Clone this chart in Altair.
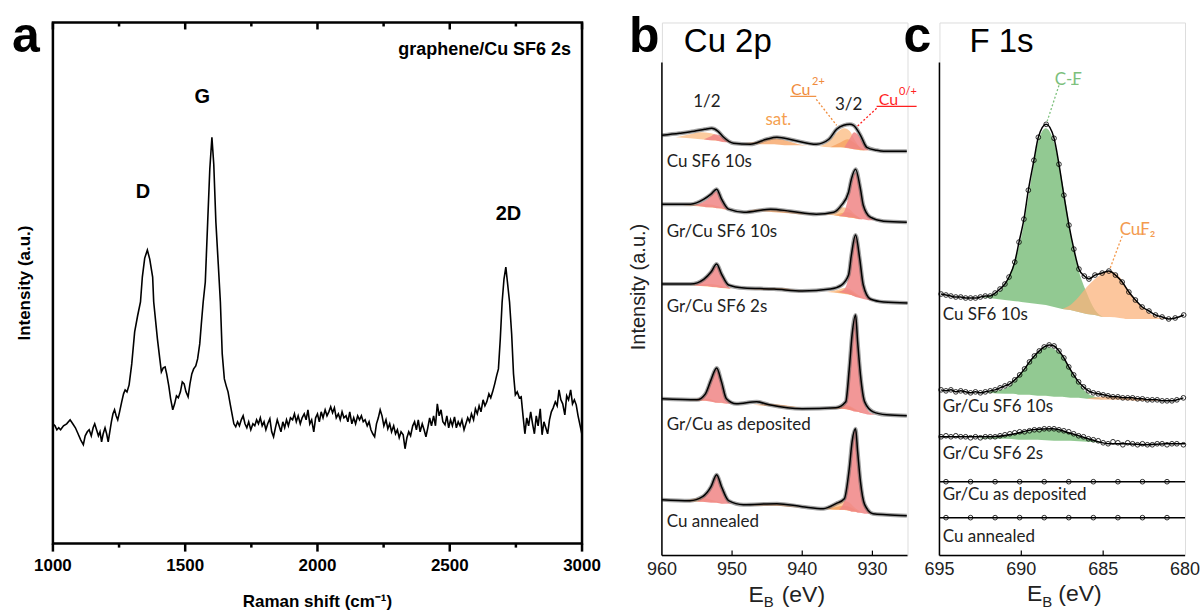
import altair as alt
import pandas as pd

FONT = "Liberation Sans"
LFONT = "Lato"

# ---------------- Panel a : Raman spectrum (intensity in a.u.) ----------------
raman = [(1000,120),(1008,118),(1015,114),(1022,116),(1029,114),(1040,118),(1052,120),(1065,124),(1075,120),(1085,116),
 (1095,110),(1105,104),(1115,99),(1122,108),(1130,112),(1137,114),(1145,108),(1152,116),(1158,120),(1165,114),(1172,108),
 (1178,112),(1184,102),(1190,110),(1197,116),(1203,110),(1209,102),(1215,112),(1221,122),(1227,130),(1233,134),(1239,128),
 (1245,124),(1252,132),(1260,142),(1267,150),(1273,154),(1280,152),(1288,159),(1298,180),(1309,212),(1320,228),(1331,242),
 (1338,267),(1347,286),(1357,294),(1366,285),(1377,267),(1381,242),(1395,205),(1404,185),(1410,172),(1417,176),(1424,177),
 (1430,170),(1438,158),(1445,145),(1453,134),(1460,140),(1467,148),(1474,146),(1482,152),(1489,162),(1496,160),(1503,152),
 (1511,147),(1518,160),(1525,170),(1532,175),(1540,178),(1547,185),(1555,200),(1561,220),(1568,242),(1576,262),(1585,322),
 (1593,375),(1601,407),(1608,380),(1616,322),(1625,280),(1633,242),(1640,190),(1648,165),(1655,158),(1662,152),(1670,140),
 (1677,130),(1684,120),(1691,117),(1698,122),(1705,118),(1712,124),(1719,128),(1726,120),(1733,116),(1740,122),(1748,114),
 (1756,120),(1763,118),(1770,124),(1777,120),(1784,126),(1791,118),(1798,122),(1805,114),(1812,120),(1820,125),(1827,112),
 (1834,107),(1841,116),(1848,124),(1855,118),(1862,112),(1869,122),(1876,116),(1883,124),(1890,118),(1898,126),(1906,124),
 (1913,130),(1920,122),(1927,128),(1935,120),(1942,126),(1950,130),(1957,124),(1964,134),(1971,120),(1978,124),(1986,112),
 (1993,126),(2000,130),(2007,122),(2014,132),(2021,126),(2029,134),(2036,128),(2043,132),(2050,137),(2057,131),(2064,136),
 (2071,126),(2079,130),(2086,124),(2093,132),(2100,126),(2108,128),(2115,122),(2122,132),(2130,120),(2137,126),(2144,120),
 (2152,128),(2159,124),(2166,128),(2173,122),(2180,124),(2188,118),(2195,122),(2202,114),(2209,110),(2216,107),(2223,120),
 (2230,126),(2237,134),(2244,128),(2251,118),(2259,124),(2266,115),(2273,120),(2280,112),(2288,118),(2295,110),(2302,114),
 (2309,106),(2316,112),(2324,109),(2331,95),(2338,106),(2345,112),(2352,108),(2360,118),(2367,122),(2374,114),(2381,124),
 (2388,112),(2396,120),(2403,114),(2410,107),(2417,116),(2424,126),(2431,118),(2439,128),(2446,118),(2453,140),(2460,128),
 (2467,134),(2474,122),(2482,119),(2489,128),(2496,116),(2503,124),(2510,118),(2518,127),(2525,116),(2532,122),(2539,118),
 (2546,124),(2554,114),(2561,120),(2568,126),(2575,122),(2582,130),(2590,124),(2597,135),(2604,130),(2611,138),(2618,132),
 (2626,144),(2633,138),(2640,142),(2648,150),(2655,146),(2662,152),(2670,160),(2677,168),(2684,175),(2691,205),(2698,242),
 (2705,265),(2712,277),(2718,262),(2726,242),(2734,210),(2741,170),(2748,149),(2755,152),(2763,146),(2770,147),(2777,128),
 (2784,110),(2791,126),(2798,118),(2806,132),(2813,120),(2820,110),(2827,128),(2834,118),(2842,135),(2849,109),(2856,122),
 (2863,116),(2870,110),(2877,124),(2884,132),(2891,136),(2899,142),(2906,138),(2913,154),(2920,144),(2927,140),(2935,129),
 (2942,148),(2949,144),(2957,154),(2964,140),(2971,144),(2978,139),(2985,128),(2993,118),(3000,109)]
raman_ticks = [1000, 1500, 2000, 2500, 3000]
raman_minor = [1250, 1750, 2250, 2750]
raman_peaks = [("D", 1340, 352), ("G", 1565, 447), ("2D", 2722, 330)]

# ---------------- Panel b : Cu 2p (E_B in eV, intensity in a.u.) ----------------
b_names = ["Cu SF6 10s", "Gr/Cu SF6 10s", "Gr/Cu SF6 2s", "Gr/Cu as deposited", "Cu annealed"]
b_label_y = [394, 324, 249, 131, 34]
b1_fit = [(960,421),(957.5,423),(955.4,425),(953.9,427),(952.9,428),(952,425),(951.2,419),(949.8,413),(947.4,412),(945.1,417),
          (943.6,419),(941.2,416),(938,412),(936.2,417),(935.1,427),(934.1,431),(933.2,432),(932.7,431),(931.7,421),(930.8,409),
          (929.4,406),(928.4,405),(925.1,405)]
b2_fit = [(960,352),(955.9,352),(954,357),(953,362),(952.2,367),(951.5,357),(950.5,347),(948.3,344),(944.5,347),(941.7,345),
          (938,342),(935.5,344),(934.4,351),(933.4,364),(933,377),(932.4,387),(931.7,367),(931.3,351),(930.3,339),(928.4,335),(925.1,334)]
b3_fit = [(960,272),(955.9,272),(954,277),(953,284),(952.2,292),(951.5,282),(950.5,271),(948.3,268),(944,267),(940,265),
          (936,267),(934.4,271),(933.4,281),(933,301),(932.4,321),(931.8,297),(931.3,271),(930.3,257),(928.4,254),(925,253)]
b4_fit = [(960,157),(955,156),(953.8,162),(953,176),(952.2,188),(951.5,174),(950.8,157),(949.4,152),(946.5,154),(944.7,151),
          (940,147),(935.2,148),(933.8,154),(933.3,187),(932.9,221),(932.4,241),(932.1,214),(931.7,181),(931.1,154),(929.9,144),
          (928,141),(925.1,140)]
b5_fit = [(960,56),(956,55),(954.2,59),(953,69),(952.2,81),(951.5,69),(950.5,55),(948.4,51),(943.6,52),(940,49),(937,47),
          (935.2,52),(934,57),(933.3,87),(932.9,114),(932.4,127),(932.1,104),(931.7,74),(931.1,51),(929.9,42),(928,41),(925.1,40)]

# fitted components: (E_B, background, top)
b1_cu2_a = [(958,419,419),(956,418,422),(954.5,417,424),(953,416,423),(951.5,415,418),(950,414,414)]
b1_cu0_a = [(954,417,417),(953,416,420),(952.5,416,422),(951.8,415,421),(951,414,417),(950,414,414)]
b1_sat_a = [(948.5,413,413),(946,412,415),(944,412,418),(942.5,411,416),(940.5,411,412),(939,410,410)]
b1_cu2_b = [(937.5,410,410),(936,409,416),(935,409,424),(934,409,428),(933.2,408,425),(932.5,407,416),(931.5,406,407),(931,406,406)]
b1_sat_b = [(936,409,409),(934.5,409,414),(933.5,408,417),(932.5,407,413),(931.5,406,408),(930.5,406,406)]
b1_cu0_b = [(934,409,409),(933.2,408,418),(932.6,407,424),(932,407,421),(931.3,406,413),(930.5,406,406)]

b2_cu2_a = [(957,351,351),(955,350,352),(953.5,349,352),(952,348,350),(950.5,346,346)]
b2_cu0_a = [(955.5,351,351),(954.5,350,353),(953.5,349,357),(952.8,349,362),(952.2,348,365),(951.6,348,357),(951,347,350),(950.2,346,346)]
b2_sat_a = [(948,345,345),(946,345,347),(944,344,347),(942,343,345),(940,342,343),(938.5,342,342)]
b2_cu2_b = [(937,342,342),(935.5,341,344),(934.5,340,349),(933.5,339,348),(932.5,338,342),(931.5,337,337)]
b2_sat_b = [(935.5,341,341),(934.5,340,343),(933.5,339,344),(932.5,338,341),(931.5,337,337)]
b2_cu0_b = [(934.8,340,340),(934,340,345),(933.4,339,360),(933,339,373),(932.4,338,384),(931.8,337,368),(931.3,337,350),(930.6,336,341),(929.8,336,336)]

b3_cu2_a = [(956,271,271),(954.5,270,272),(953,269,272),(951.5,268,270),(950,267,267)]
b3_cu0_a = [(955.5,271,271),(954.5,270,274),(953.5,270,280),(952.8,269,287),(952.2,269,290),(951.6,268,283),(951,268,274),(950.2,267,267)]
b3_sat_a = [(948,267,267),(945,266,268),(943,266,268),(941,265,266),(939,265,265)]
b3_cu2_b = [(936.5,264,264),(935,263,266),(934,262,268),(933,261,266),(932,259,261),(931,258,258)]
b3_sat_b = [(935.5,264,264),(934.5,263,265),(933.5,262,266),(932.5,260,262),(931.5,258,258)]
b3_cu0_b = [(934.8,264,264),(934,263,267),(933.4,262,279),(933,261,298),(932.4,259,319),(931.8,258,296),(931.3,257,270),(930.6,256,259),(929.8,255,255)]

b4_cu2_a = [(956.5,156,156),(955,155,157),(953.5,155,157),(952,153,154),(950.5,152,152)]
b4_cu0_a = [(955.5,156,156),(954.5,155,158),(953.8,155,162),(953,154,175),(952.2,153,187),(951.5,153,173),(950.8,152,157),(950,152,152)]
b4_sat_a = [(947,151,151),(945,150,152),(942,149,150),(940,148,148)]
b4_cu2_b = [(936.5,147,147),(935,147,149),(934,147,151),(933,146,149),(932,144,145),(931,142,142)]
b4_sat_b = [(936,147,147),(934.5,147,149),(933.5,146,149),(932.5,145,146),(931.5,143,143)]
b4_cu0_b = [(935,147,147),(934,147,151),(933.3,146,186),(932.9,145,219),(932.4,144,240),(932.1,144,213),(931.7,143,180),(931.1,142,153),(930.3,141,143),(929.5,141,141)]

b5_cu2_a = [(957,55,55),(955.5,54,57),(954.5,54,58),(953.5,54,57),(952,53,54),(951,52,52)]
b5_cu0_a = [(955,54,54),(954.2,54,58),(953,53,68),(952.2,53,80),(951.5,52,68),(950.8,52,56),(950,52,52)]
b5_sat_a = [(948,51,51),(946,50,52),(944,50,52),(942,49,50),(940,48,48)]
b5_cu2_b = [(937,47,47),(935.5,46,51),(934.5,46,55),(933.5,45,54),(932.5,44,48),(931.5,43,43)]
b5_sat_b = [(936.5,47,47),(935,46,49),(934,46,50),(933,45,48),(932,44,44)]
b5_cu0_b = [(934.8,46,46),(934,46,55),(933.3,45,85),(932.9,44,112),(932.4,44,126),(932.1,43,103),(931.7,43,73),(931.1,42,50),(930.3,42,43),(929.5,41,41)]

b_ticks = [960, 950, 940, 930]

# ---------------- Panel c : F 1s ----------------
c_names = ["Cu SF6 10s", "Gr/Cu SF6 10s", "Gr/Cu SF6 2s", "Gr/Cu as deposited", "Cu annealed"]
c_label_y = [240, 148, 101, 60, 18]
c1_data = [(694.9,261),(694.6,260),(694.3,259),(694.0,258),(693.7,258),(693.4,257),(693.1,257),(692.8,257),(692.5,258),
           (692.2,259),(691.9,259),(691.6,262),(691.3,266),(691.0,271),(690.75,278),(690.4,293),(690.14,313),(689.84,336),
           (689.57,365),(689.23,395),(688.96,418),(688.48,431),(688.0,417),(687.7,391),(687.4,360),(687.09,330),(686.79,306),
           (686.48,286),(686.15,279),(685.87,276),(685.5,280),(685.06,282),(684.65,284),(684.25,280),(683.84,273),(683.43,263),
           (683.03,255),(682.62,248),(682.2,244),(681.8,240),(681.4,238),(681.0,236),(680.6,237),(680.08,240)]
c2_data = [(694.9,165),(694.6,164),(694.3,165),(694.0,163),(693.7,164),(693.4,163),(693.1,162),(692.8,163),(692.5,162),
           (692.2,163),(691.9,164),(691.6,165),(691.3,167),(691.0,169),(690.7,171),(690.4,175),(690.1,180),(689.8,186),
           (689.5,193),(689.2,199),(688.9,204),(688.6,208),(688.3,210),(688.0,209),(687.7,204),(687.4,197),(687.1,188),
           (686.8,180),(686.5,173),(686.2,168),(685.9,164),(685.6,162),(685.3,161),(685.0,160),(684.7,159),(684.4,158),
           (684.1,158),(683.8,157),(683.5,157),(683.2,157),(682.9,156),(682.6,156),(682.3,155),(682.0,155),(681.7,155),
           (681.4,154),(681.1,154),(680.8,154),(680.5,155),(680.1,157)]
c3_data = [(694.9,118),(694.6,119),(694.3,118),(694.0,119),(693.7,118),(693.4,118),(693.1,117),(692.8,118),(692.5,117),
           (692.2,118),(691.9,118),(691.6,118),(691.3,119),(691.0,120),(690.7,121),(690.4,122),(690.1,123),(689.8,123),
           (689.5,124),(689.2,125),(688.9,125),(688.6,126),(688.3,126),(688.0,126),(687.7,125),(687.4,124),(687.1,123),
           (686.8,121),(686.5,119),(686.2,118),(685.9,116),(685.6,115),(685.3,114),(685.0,112),(684.7,111),(684.4,113),
           (684.1,112),(683.8,110),(683.5,112),(683.2,111),(682.9,110),(682.6,111),(682.3,110),(682.0,110),(681.7,111),
           (681.4,111),(681.1,110),(680.8,111),(680.5,111),(680.1,110)]
c3_fit = [(695,118),(693.4,118),(691.8,118),(690.4,121),(689.3,125),(688.1,126),(686.9,121),(685.7,115),(684.6,111),
          (683.6,111),(682.4,110),(681.2,111),(680,111)]
c4_level = 73
c5_level = 37
c_flat_pts = [694.6, 693.1, 691.6, 690.1, 688.6, 687.1, 685.6, 684.1, 682.6, 681.1]

c1_cf = [(692.5,258,258),(691.5,256,262),(691,255,270),(690.5,254,290),(690,253,318),(689.5,252,365),(689,251,412),
         (688.5,250,427),(688,248,413),(687.5,246,374),(687,245,324),(686.5,243,285),(686,241,262),(685.5,240,245),(685,238,238)]
c1_cuf2 = [(687.5,246,246),(687,245,250),(686.5,243,258),(686,241,268),(685.5,240,276),(685,238,282),(684.6,238,284),
           (684,237,278),(683.5,236,266),(683,236,255),(682.5,236,246),(682,236,240),(681.5,236,237),(681,236,236)]
c2_cf = [(692,162,163),(691,161,166),(690.5,161,172),(690,160,182),(689.5,160,194),(689,159,203),(688.5,159,208),
         (688,158,206),(687.5,158,199),(687,157,186),(686.5,157,172),(686,156,162),(685.5,156,158),(685,155,155)]
c2_cuf2 = [(686,156,156),(685,155,158),(684,155,158),(683,154,157),(682,154,155),(681,154,154)]
c3_cf = [(692.5,116,117),(691,116,119),(690,115,122),(689,115,124.5),(688,114,125.5),(687,114,121),(686,113,116),(685,112,112)]
c_ticks = [695, 690, 685, 680]

# ---------------- colours ----------------
PINK = "#f08585"
LORANGE = "#fcc594"
ORANGE = "#f59f5c"
GREEN = "#86c386"
CORANGE = "#fbb37c"

one = pd.DataFrame({"d": [0]})


def pix_text(txt, x, y, size, weight="normal", color="black", font=FONT, align="left",
             baseline="alphabetic", angle=0, opacity=1):
    return alt.Chart(one).mark_text(text=txt, fontSize=size, fontWeight=weight, color=color, font=font,
                                    align=align, baseline=baseline, angle=angle, opacity=opacity).encode(
        x=alt.value(x), y=alt.value(y))


def xy(pairs, **extra):
    d = pd.DataFrame(pairs, columns=["x", "y"])
    for k, v in extra.items():
        d[k] = v
    return d


def comp(rows, grp, kind):
    d = pd.DataFrame(rows, columns=["x", "lo", "hi"])
    d["grp"] = grp
    d["kind"] = kind
    return d


def tick_labels(vals, xenc, y, size, weight="normal", color="black"):
    d = pd.DataFrame({"x": vals})
    return alt.Chart(d).mark_text(font=FONT, fontSize=size, fontWeight=weight, color=color,
                                  baseline="top").encode(x=xenc, y=alt.value(y), text=alt.Text("x:Q", format="d"))


def area_layer(df, kind, color, opacity, xenc, yscale):
    return alt.Chart(df[df.kind == kind]).mark_area(interpolate="monotone", color=color, opacity=opacity).encode(
        x=xenc, y=alt.Y("lo:Q", scale=yscale, axis=None), y2="hi:Q", detail="grp:N")


def dtext(txt, x, y, size, color, xenc, yenc, align="left"):
    d = pd.DataFrame({"t": [txt], "x": [x], "y": [y]})
    return alt.Chart(d).mark_text(font=LFONT, fontSize=size, color=color, align=align).encode(
        x=xenc, y=yenc, text="t:N")


def dseg(x1, y1, x2, y2, color, xenc, yscale, dash=None, width=1.3):
    d = pd.DataFrame({"x": [x1], "y": [y1], "x2": [x2], "y2": [y2]})
    kw = {"strokeDash": dash} if dash else {}
    return alt.Chart(d).mark_rule(color=color, strokeWidth=width, **kw).encode(
        x=xenc, y=alt.Y("y:Q", scale=yscale, axis=None), x2="x2:Q", y2="y2:Q")


def spines(W, H, top):
    return [alt.Chart(one).mark_rule(color="black", strokeWidth=1.5).encode(
                x=alt.value(0), y=alt.value(top), y2=alt.value(H)),
            alt.Chart(one).mark_rule(color="black", strokeWidth=1.5).encode(
                x=alt.value(0), x2=alt.value(W), y=alt.value(H))]


# ================= Panel a =================
WA, HA = 530, 522
xa_s = alt.Scale(domain=[1000, 3000], nice=False, zero=False)
ya_s = alt.Scale(domain=[0, 522], nice=False, zero=False)
XAn = alt.X("x:Q", scale=xa_s, axis=None)
YA = alt.Y("y:Q", scale=ya_s, axis=None)

a_line = alt.Chart(xy(raman)).mark_line(color="black", strokeWidth=1.6).encode(x=XAn, y=YA)
tmaj = pd.DataFrame({"x": raman_ticks})
tmin = pd.DataFrame({"x": raman_minor})
a_ticks = [
    alt.Chart(tmaj).mark_rule(color="black", strokeWidth=2.5).encode(x=XAn, y=alt.value(HA), y2=alt.value(HA + 8)),
    alt.Chart(tmin).mark_rule(color="black", strokeWidth=2.5).encode(x=XAn, y=alt.value(HA), y2=alt.value(HA + 4)),
    alt.Chart(tmaj).mark_rule(color="black", strokeWidth=2.5).encode(x=XAn, y=alt.value(0), y2=alt.value(7)),
    alt.Chart(tmin).mark_rule(color="black", strokeWidth=2.5).encode(x=XAn, y=alt.value(0), y2=alt.value(4)),
]
peak_df = pd.DataFrame(raman_peaks, columns=["t", "x", "y"])
a_peaks = alt.Chart(peak_df).mark_text(font=FONT, fontSize=20, fontWeight="bold", color="black",
                                       baseline="middle").encode(x=XAn, y=YA, text="t:N")
a_layers = [a_line] + a_ticks + [
    a_peaks,
    tick_labels(raman_ticks, XAn, HA + 14, 17, weight="bold"),
    pix_text("graphene/Cu SF6 2s", 519, 33, 18, weight="bold", align="right"),
    pix_text("a", -41, 30, 50, weight="bold"),
    pix_text("Intensity (a.u.)", -28, HA / 2, 17, weight="bold", align="center", baseline="middle", angle=270),
    pix_text("Raman shift (cm⁻¹)", WA / 2, 586, 17, weight="bold", align="center"),
    pix_text(".", -51, -20, 10, baseline="top", opacity=0),
    pix_text(".", 571, -20, 10, align="right", baseline="top", opacity=0),
]
A = alt.layer(*a_layers).properties(width=WA, height=HA, view=alt.ViewBackground(stroke="black", strokeWidth=2.5))

# ================= Panel b =================
WB, HB = 246, 534   # plot starts with an empty band of 40 px above the spectra
xb_s = alt.Scale(domain=[925, 960], reverse=True, nice=False, zero=False)
yb_s = alt.Scale(domain=[0, 534], nice=False, zero=False)
XBn = alt.X("x:Q", scale=xb_s, axis=None)
YBn = alt.Y("y:Q", scale=yb_s, axis=None)

b_fits = [b1_fit, b2_fit, b3_fit, b4_fit, b5_fit]
fit_b = pd.concat([xy(f, s=b_names[i]) for i, f in enumerate(b_fits)])
comps_b = []
for i, (c2a, c0a, sa, c2b, sb, c0b) in enumerate([
        (b1_cu2_a, b1_cu0_a, b1_sat_a, b1_cu2_b, b1_sat_b, b1_cu0_b),
        (b2_cu2_a, b2_cu0_a, b2_sat_a, b2_cu2_b, b2_sat_b, b2_cu0_b),
        (b3_cu2_a, b3_cu0_a, b3_sat_a, b3_cu2_b, b3_sat_b, b3_cu0_b),
        (b4_cu2_a, b4_cu0_a, b4_sat_a, b4_cu2_b, b4_sat_b, b4_cu0_b),
        (b5_cu2_a, b5_cu0_a, b5_sat_a, b5_cu2_b, b5_sat_b, b5_cu0_b)]):
    comps_b += [comp(c2a, f"{i}c2a", "cu2"), comp(c2b, f"{i}c2b", "cu2"),
                comp(sa, f"{i}sa", "sat"), comp(sb, f"{i}sb", "sat"),
                comp(c0a, f"{i}c0a", "cu0"), comp(c0b, f"{i}c0b", "cu0")]
comp_b = pd.concat(comps_b)

b_areas = [area_layer(comp_b, "cu2", LORANGE, 0.9, XBn, yb_s),
           area_layer(comp_b, "sat", ORANGE, 0.75, XBn, yb_s),
           area_layer(comp_b, "cu0", PINK, 0.85, XBn, yb_s)]
b_dots = alt.Chart(fit_b).mark_line(interpolate="monotone", color="#555", strokeWidth=4, opacity=0.55).encode(
    x=XBn, y=YBn, detail="s:N")
b_fitl = alt.Chart(fit_b).mark_line(interpolate="monotone", color="black", strokeWidth=1.5).encode(
    x=XBn, y=YBn, detail="s:N")
b_ticks_df = pd.DataFrame({"x": [950, 940, 930]})
b_tick = alt.Chart(b_ticks_df).mark_rule(color="black", strokeWidth=1.2).encode(
    x=XBn, y=alt.value(HB), y2=alt.value(HB - 5))
b_lab_df = pd.DataFrame({"t": b_names, "x": [959.3] * 5, "y": b_label_y})
b_labels = alt.Chart(b_lab_df).mark_text(font=LFONT, fontSize=17, color="#222", align="left",
                                         baseline="middle").encode(x=XBn, y=YBn, text="t:N")
ann_b = pd.DataFrame({"t": ["1/2", "3/2"], "x": [953.6, 933.4], "y": [454, 451]})
b_ann = alt.Chart(ann_b).mark_text(font=LFONT, fontSize=17, color="#222", baseline="middle").encode(
    x=XBn, y=YBn, text="t:N")
sat_df = pd.DataFrame({"t": ["sat."], "x": [943.4], "y": [436]})
b_sat = alt.Chart(sat_df).mark_text(font=LFONT, fontSize=17, color="#f5a050", baseline="middle").encode(
    x=XBn, y=YBn, text="t:N")

CUO = "#f08c3c"
RED = "#ff1f1f"
b_extra = [
    dtext("Cu", 941.6, 466, 16, CUO, XBn, YBn),
    dtext("2+", 938.6, 474, 11, CUO, XBn, YBn),
    dseg(941.7, 460, 938.0, 460, CUO, XBn, yb_s, width=1.2),
    dseg(938.0, 457, 935.1, 431, CUO, XBn, yb_s, dash=[2, 2]),
    dtext("Cu", 929.1, 456, 16, RED, XBn, YBn),
    dtext("0/+", 926.2, 464, 11, RED, XBn, YBn),
    dseg(929.4, 450, 923.7, 450, RED, XBn, yb_s, width=1.2),
    dseg(929.4, 448, 932.3, 429, RED, XBn, yb_s, dash=[2, 2]),
]
b_layers = b_areas + [b_dots, b_fitl, b_tick, b_labels, b_ann, b_sat] + b_extra + spines(WB, HB, 40) + [
    tick_labels(b_ticks, XBn, HB + 5, 18, color="#222"),
    pix_text("b", -33, 30, 50, weight="bold"),
    pix_text("Cu 2p", 22, 30, 33),
    pix_text("c", 242, 30, 50, weight="bold"),
    pix_text("Intensity (a.u.)", -23, 265, 20, color="#222", align="center", baseline="middle", angle=270),
    pix_text("E", 102, 580, 23, color="#222", align="right"),
    pix_text("B", 102, 586, 15, color="#222"),
    pix_text("(eV)", 120, 580, 23, color="#222"),
    pix_text(".", -48, 0, 10, baseline="top", opacity=0),
    pix_text(".", 272, 0, 10, align="right", baseline="top", opacity=0),
]
B = alt.layer(*b_layers).properties(width=WB, height=HB)

# ================= Panel c =================
WC, HC = 246, 534
xc_s = alt.Scale(domain=[680, 695], reverse=True, nice=False, zero=False)
yc_s = alt.Scale(domain=[-1, 533], nice=False, zero=False)
XCn = alt.X("x:Q", scale=xc_s, axis=None)
YCn = alt.Y("y:Q", scale=yc_s, axis=None)

comp_c = pd.concat([comp(c1_cf, "1cf", "cf"), comp(c2_cf, "2cf", "cf"), comp(c3_cf, "3cf", "cf"),
                    comp(c1_cuf2, "1cu", "cuf2"), comp(c2_cuf2, "2cu", "cuf2")])
c_areas = [area_layer(comp_c, "cf", GREEN, 0.9, XCn, yc_s),
           area_layer(comp_c, "cuf2", CORANGE, 0.75, XCn, yc_s)]
fit_c = pd.concat([xy(c1_data, s="1"), xy(c2_data, s="2"), xy(c3_fit, s="3"),
                   xy([(695, c4_level), (680, c4_level)], s="4"), xy([(695, c5_level), (680, c5_level)], s="5")])
c_fitl = alt.Chart(fit_c).mark_line(interpolate="monotone", color="black", strokeWidth=1.5).encode(
    x=XCn, y=YCn, detail="s:N")
pts_c = pd.concat([xy(c1_data), xy(c2_data), xy(c3_data),
                   xy([(v, c4_level) for v in c_flat_pts]), xy([(v, c5_level) for v in c_flat_pts])])
c_pts = alt.Chart(pts_c).mark_point(shape="circle", filled=False, color="black", size=22, strokeWidth=0.9,
                                    opacity=0.9).encode(x=XCn, y=YCn)
c_ticks_df = pd.DataFrame({"x": [690, 685]})
c_tick = alt.Chart(c_ticks_df).mark_rule(color="black", strokeWidth=1.2).encode(
    x=XCn, y=alt.value(HC), y2=alt.value(HC - 5))
c_lab_df = pd.DataFrame({"t": c_names, "x": [694.8] * 5, "y": c_label_y})
c_labels = alt.Chart(c_lab_df).mark_text(font=LFONT, fontSize=17, color="#222", align="left",
                                         baseline="middle").encode(x=XCn, y=YCn, text="t:N")
GTXT = "#7cc07c"
OTXT = "#f39a4f"
c_extra = [
    dtext("C-F", 687.13, 475, 17, GTXT, XCn, YCn, align="center"),
    dseg(686.95, 471, 686.5, 471, GTXT, XCn, yc_s, width=1.2),
    dseg(687.7, 470, 688.42, 434, GTXT, XCn, yc_s, dash=[2, 2]),
    dtext("CuF₂", 682.9, 325, 17, OTXT, XCn, YCn, align="center"),
    dseg(682.85, 321, 682.4, 321, OTXT, XCn, yc_s, width=1.2),
    dseg(683.84, 319, 684.57, 287, OTXT, XCn, yc_s, dash=[2, 2]),
]
c_layers = c_areas + [c_fitl, c_pts, c_tick, c_labels] + c_extra + spines(WC, HC, 40) + [
    tick_labels(c_ticks, XCn, HC + 5, 18, color="#222"),
    pix_text("F 1s", 30, 30, 33),
    pix_text("E", 103, 579, 23, color="#222", align="right"),
    pix_text("B", 103, 585, 15, color="#222"),
    pix_text("(eV)", 119, 579, 23, color="#222"),
    pix_text(".", -16, 0, 10, baseline="top", opacity=0),
]
C = alt.layer(*c_layers).properties(width=WC, height=HC)

chart = alt.hconcat(A, B, C, spacing=-12).properties(padding=0).configure_view(stroke=None).configure(font=FONT)
chart.save("out.html", embed_options={"renderer": "svg", "actions": False})
